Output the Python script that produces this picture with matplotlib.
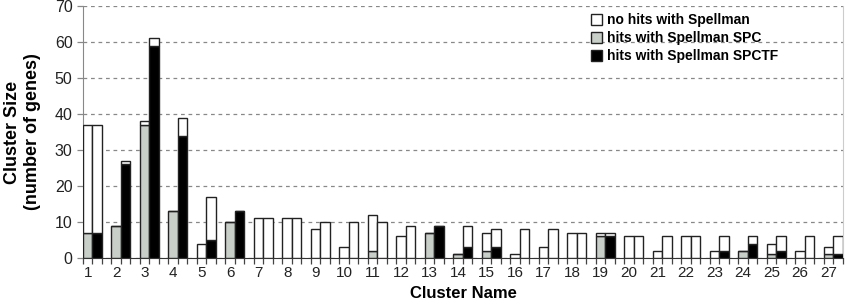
import numpy as np
import matplotlib
matplotlib.use('Agg')
import matplotlib.pyplot as plt
from matplotlib.patches import Patch

plt.rcParams['font.family'] = ['Liberation Sans', 'DejaVu Sans']

clusters = list(range(1, 28))
# left bar: SPC clustering (total size, hits with Spellman)
spc_total = [37, 9, 38, 13, 4, 10, 11, 11, 8, 3, 12, 6, 7, 1, 7, 1, 3, 7, 7, 6, 2, 6, 2, 2, 4, 2, 3]
spc_hits = [7, 9, 37, 13, 0, 10, 0, 0, 0, 0, 2, 0, 7, 1, 2, 0, 0, 0, 6, 0, 0, 0, 0, 2, 1, 0, 1]
# right bar: SPCTF clustering
spctf_total = [37, 27, 61, 39, 17, 13, 11, 11, 10, 10, 10, 9, 9, 9, 8, 8, 8, 7, 7, 6, 6, 6, 6, 6, 6, 6, 6]
spctf_hits = [7, 26, 59, 34, 5, 13, 0, 0, 0, 0, 0, 0, 9, 3, 3, 0, 0, 0, 6, 0, 0, 0, 2, 4, 2, 0, 1]

GREY = '#c8cec8'
EDGE = '#222222'


def main():
    fig = plt.figure(figsize=(8.49, 3.05), dpi=100)
    ax = fig.add_axes([83 / 849, 1 - 258 / 305, 760 / 849, 252 / 305])

    x = np.array(clusters, dtype=float)
    w = 1 / 3
    spc_total_a = np.array(spc_total)
    spc_hits_a = np.array(spc_hits)
    spctf_total_a = np.array(spctf_total)
    spctf_hits_a = np.array(spctf_hits)

    kw = dict(width=w, edgecolor=EDGE, linewidth=1.0, zorder=3)
    ax.bar(x, spc_hits_a, color=GREY, **kw)
    ax.bar(x, spc_total_a - spc_hits_a, bottom=spc_hits_a, color='white', **kw)
    ax.bar(x + w, spctf_hits_a, color='black', **kw)
    ax.bar(x + w, spctf_total_a - spctf_hits_a, bottom=spctf_hits_a, color='white', **kw)

    ax.set_xlim(1 - w / 2, 27 + w + w / 2 + 0.005)
    ax.set_ylim(0, 70)
    ax.set_yticks(range(0, 71, 10))
    ax.yaxis.grid(True, linestyle=(0, (3, 3)), color='#888888', linewidth=0.9, zorder=0)

    # tick marks between every bar slot, labels under the left bar
    ax.set_xticks(np.arange(1 - w / 2, 27.6, w))
    ax.set_xticklabels([])
    ax.set_xticks(x, minor=True)
    ax.set_xticklabels([str(c) for c in clusters], minor=True)
    ax.tick_params(axis='x', which='major', length=4, width=0.9, color='#444444', direction='out')
    ax.tick_params(axis='x', which='minor', length=0, pad=6, labelsize=11, labelcolor='#222222')
    ax.tick_params(axis='y', length=4, width=0.9, color='#888888', labelsize=11.5, labelcolor='#222222')

    ax.spines['left'].set_color('#888888')
    ax.spines['bottom'].set_color('#333333')
    ax.spines['right'].set_color('#cccccc')
    ax.spines['top'].set_visible(False)

    ax.set_xlabel('Cluster Name', fontsize=12, fontweight='bold', labelpad=4)
    ax.set_ylabel('Cluster Size\n(number of genes)', fontsize=13, fontweight='bold', labelpad=10)

    handles = [Patch(facecolor='white', edgecolor=EDGE),
               Patch(facecolor=GREY, edgecolor=EDGE),
               Patch(facecolor='black', edgecolor=EDGE)]
    labels = ['no hits with Spellman', 'hits with Spellman SPC', 'hits with Spellman SPCTF']
    ax.legend(handles, labels, loc='upper left', bbox_to_anchor=(0.668, 0.972), frameon=False,
              prop={'weight': 'bold', 'size': 10}, handlelength=0.8, handleheight=0.8,
              handletextpad=0.4, labelspacing=0.3, borderaxespad=0.0, borderpad=0.0)

    fig.savefig('out.png', dpi=100)


if __name__ == '__main__':
    main()
